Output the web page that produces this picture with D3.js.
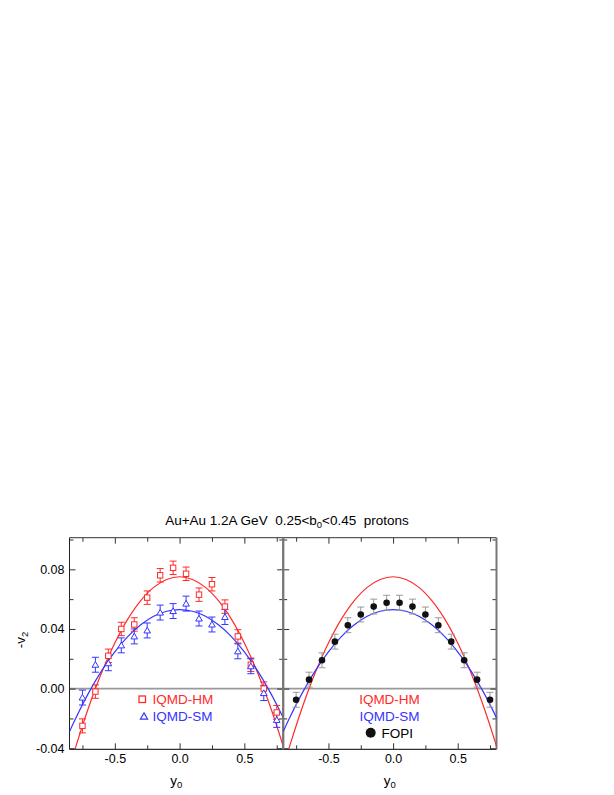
<!DOCTYPE html>
<html><head><meta charset="utf-8">
<script src="https://cdn.jsdelivr.net/npm/d3@7"></script>
<style>body{margin:0;background:#fff}svg{display:block}text{font-family:"Liberation Sans",Arial,sans-serif;white-space:pre}</style>
</head><body><svg id="c" width="614" height="795"></svg>
<script>
// ---- data ----
const rapidity = [-0.75,-0.65,-0.55,-0.45,-0.35,-0.25,-0.15,-0.05,0.05,0.15,0.25,0.35,0.45,0.55,0.65,0.75];
const hmValues = [-0.025,-0.002,0.022,0.040,0.043,0.061,0.076,0.081,0.077,0.063,0.070,0.055,0.035,0.016,0.000,-0.016];
const hmErrors = [0.0047,0.0045,0.0045,0.0045,0.0045,0.0045,0.0045,0.0045,0.0045,0.0045,0.0045,0.0045,0.0045,0.0045,0.0045,0.0047];
const smValues = [-0.006,0.016,0.017,0.029,0.035,0.039,0.051,0.052,0.057,0.047,0.043,0.048,0.025,0.015,-0.003,-0.021];
const smErrors = [0.005,0.005,0.005,0.005,0.005,0.005,0.005,0.005,0.005,0.005,0.005,0.005,0.005,0.005,0.005,0.005];
const fopiValues = [-0.0075,0.006,0.019,0.0315,0.0425,0.0497,0.055,0.0576,0.0576,0.055,0.0497,0.0425,0.0315,0.019,0.006,-0.0075];
const fopiErrors = [0.005,0.005,0.005,0.005,0.005,0.005,0.005,0.005,0.005,0.005,0.005,0.005,0.005,0.005,0.005,0.005];
// fit curves
const curveX = [-0.85,-0.8,-0.7,-0.6,-0.5,-0.4,-0.3,-0.2,-0.1,0,0.1,0.2,0.3,0.4,0.5,0.6,0.7,0.8,0.85];
const hmCurve = [-0.0533,-0.0386,-0.0120,0.0111,0.0306,0.0466,0.0590,0.0679,0.0732,0.075,0.0732,0.0679,0.0590,0.0466,0.0306,0.0111,-0.0120,-0.0386,-0.0533];
const smCurve = [-0.0288,-0.0195,-0.0025,0.0122,0.0247,0.0349,0.0428,0.0485,0.0519,0.053,0.0519,0.0485,0.0428,0.0349,0.0247,0.0122,-0.0025,-0.0195,-0.0288];
const xTickLabels = ["-0.5","0.0","0.5"];
const yTickLabels = ["-0.04","0.00","0.04","0.08"];
const titleStart = "Au+Au 1.2A GeV  0.25<b";
const titleEnd = "<0.45  protons";

const RED = "#ff2a2a", BLUE = "#3535ff";
const svg = d3.select("#c");
const plotTop = 537.7, plotBottom = 749.3;
const y = d3.scaleLinear().domain([-0.0407, 0.1012]).range([plotBottom, plotTop]);
const xDomain = [-0.85, 0.8];
const panels = [
  {x: d3.scaleLinear().domain(xDomain).range([69.5, 283.2]), left: true},
  {x: d3.scaleLinear().domain(xDomain).range([283.2, 496.5]), left: false}
];
const defs = svg.append("defs");

panels.forEach((p, i) => {
  const [x0, x1] = p.x.range();
  defs.append("clipPath").attr("id", "clip" + i).append("rect")
    .attr("x", x0).attr("y", plotTop).attr("width", x1 - x0).attr("height", plotBottom - plotTop);
  const g = svg.append("g");
  // zero line
  g.append("line").attr("x1", x0).attr("x2", x1).attr("y1", y(0)).attr("y2", y(0))
    .attr("stroke", "#999").attr("stroke-width", 1.6);
  // axes: major + minor ticks on all sides, inward
  const xMajor = [-0.5, 0, 0.5], xMinor = [-0.75, -0.25, 0.25, 0.75];
  const yMajor = [-0.04, 0, 0.04, 0.08], yMinor = [-0.02, 0.02, 0.06, 0.10];
  const mk = (axisFn, scale, vals, size, fmt) => axisFn(scale).tickValues(vals).tickSize(-size).tickPadding(5).tickFormat(fmt);
  const style = sel => { sel.select(".domain").remove(); sel.selectAll("line").attr("stroke", "#333"); sel.selectAll("text").attr("font-size", 12.5).attr("fill", "#000").attr("font-family", null); };
  g.append("g").attr("transform", `translate(0,${plotBottom})`).call(mk(d3.axisBottom, p.x, xMajor, 6, (d, k) => xTickLabels[k])).call(style);
  g.append("g").attr("transform", `translate(0,${plotBottom})`).call(mk(d3.axisBottom, p.x, xMinor, 4, "")).call(style);
  g.append("g").attr("transform", `translate(0,${plotTop})`).call(mk(d3.axisTop, p.x, xMajor, 6, "")).call(style);
  g.append("g").attr("transform", `translate(0,${plotTop})`).call(mk(d3.axisTop, p.x, xMinor, 4, "")).call(style);
  g.append("g").attr("transform", `translate(${x0},0)`).call(mk(d3.axisLeft, y, yMajor, 6, p.left ? (d, k) => yTickLabels[k] : "")).call(style);
  g.append("g").attr("transform", `translate(${x0},0)`).call(mk(d3.axisLeft, y, yMinor, 4, "")).call(style);
  g.append("g").attr("transform", `translate(${x1},0)`).call(mk(d3.axisRight, y, yMajor, 6, "")).call(style);
  g.append("g").attr("transform", `translate(${x1},0)`).call(mk(d3.axisRight, y, yMinor, 4, "")).call(style);
  // frame
  g.append("line").attr("x1", x0).attr("x2", x1).attr("y1", plotTop).attr("y2", plotTop).attr("stroke", "#333").attr("stroke-width", 1);
  g.append("line").attr("x1", x0).attr("x2", x1).attr("y1", plotBottom).attr("y2", plotBottom).attr("stroke", "#333").attr("stroke-width", 1.2);
  g.append("line").attr("x1", x0).attr("x2", x0).attr("y1", plotTop).attr("y2", plotBottom)
    .attr("stroke", p.left ? "#222" : "#777").attr("stroke-width", p.left ? 1 : 2);
  g.append("line").attr("x1", x1).attr("x2", x1).attr("y1", plotTop).attr("y2", plotBottom)
    .attr("stroke", "#777").attr("stroke-width", 2);

  // curves
  const line = d3.line().x((d, k) => p.x(curveX[k])).y(d => y(d)).curve(d3.curveCatmullRom);
  const cg = g.append("g").attr("clip-path", `url(#clip${i})`);
  cg.append("path").attr("d", line(hmCurve)).attr("fill", "none").attr("stroke", RED).attr("stroke-width", 1.2);
  cg.append("path").attr("d", line(smCurve)).attr("fill", "none").attr("stroke", BLUE).attr("stroke-width", 1.2);

  // x axis title
  const yl = g.append("text").attr("x", (x0 + x1) / 2).attr("y", 785).attr("text-anchor", "middle").attr("font-size", 13.5);
  yl.append("tspan").text("y");
  yl.append("tspan").attr("font-size", 9.5).attr("dy", 3).text("0");

  const errBar = (grp, vals, errs, color) => {
    vals.forEach((v, k) => {
      const cx = p.x(rapidity[k]);
      grp.append("line").attr("x1", cx).attr("x2", cx).attr("y1", y(v - errs[k])).attr("y2", y(v + errs[k])).attr("stroke", color).attr("stroke-width", 1);
      [v - errs[k], v + errs[k]].forEach(e => grp.append("line").attr("x1", cx - 3.5).attr("x2", cx + 3.5).attr("y1", y(e)).attr("y2", y(e)).attr("stroke", color).attr("stroke-width", 1));
    });
  };
  if (p.left) {
    const pg = g.append("g");
    errBar(pg, hmValues, hmErrors, RED);
    errBar(pg, smValues, smErrors, BLUE);
    pg.selectAll(".sq").data(hmValues).join("rect").attr("class", "sq")
      .attr("x", (d, k) => p.x(rapidity[k]) - 2.7).attr("y", d => y(d) - 2.7).attr("width", 5.4).attr("height", 5.4)
      .attr("fill", "#fff").attr("stroke", RED).attr("stroke-width", 1);
    const tri = d3.symbol().type(d3.symbolTriangle).size(19);
    pg.selectAll(".tr").data(smValues).join("path").attr("class", "tr")
      .attr("transform", (d, k) => `translate(${p.x(rapidity[k])},${y(d) + 0.6})`).attr("d", tri())
      .attr("fill", "#fff").attr("stroke", BLUE).attr("stroke-width", 1);
    // legend
    g.append("rect").attr("x", 139).attr("y", 696).attr("width", 6.5).attr("height", 6.5).attr("fill", "#fff").attr("stroke", RED).attr("stroke-width", 1.3);
    g.append("text").attr("x", 152.5).attr("y", 704).attr("font-size", 13.5).attr("fill", RED).text("IQMD-HM");
    g.append("path").attr("transform", "translate(144,717)").attr("d", d3.symbol().type(d3.symbolTriangle).size(22)()).attr("fill", "#fff").attr("stroke", BLUE).attr("stroke-width", 1.2);
    g.append("text").attr("x", 152.5).attr("y", 721).attr("font-size", 13.5).attr("fill", BLUE).text("IQMD-SM");
  } else {
    const pg = g.append("g");
    errBar(pg, fopiValues, fopiErrors, "#999");
    pg.selectAll(".dot").data(fopiValues).join("circle").attr("class", "dot")
      .attr("cx", (d, k) => p.x(rapidity[k])).attr("cy", d => y(d)).attr("r", 3.3).attr("fill", "#111");
    g.append("text").attr("x", 389.5).attr("y", 704).attr("text-anchor", "middle").attr("font-size", 13.5).attr("fill", RED).text("IQMD-HM");
    g.append("text").attr("x", 389.5).attr("y", 721).attr("text-anchor", "middle").attr("font-size", 13.5).attr("fill", BLUE).text("IQMD-SM");
    g.append("circle").attr("cx", 370.7).attr("cy", 732.7).attr("r", 5).attr("fill", "#111");
    g.append("text").attr("x", 381.5).attr("y", 738).attr("font-size", 13.5).attr("fill", "#000").text("FOPI");
  }
});

// y-axis title
const vl = svg.append("text").attr("transform", "translate(25,640) rotate(-90)").attr("text-anchor", "middle").attr("font-size", 13.5);
vl.append("tspan").text("-v");
vl.append("tspan").attr("font-size", 9.5).attr("dy", 3).text("2");

// title
const t = svg.append("text").attr("x", 287).attr("y", 525).attr("text-anchor", "middle").attr("font-size", 13.5);
t.append("tspan").text(titleStart);
t.append("tspan").attr("font-size", 9.5).attr("dy", 3).text("0");
t.append("tspan").attr("dy", -3).text(titleEnd);
</script></body></html>
